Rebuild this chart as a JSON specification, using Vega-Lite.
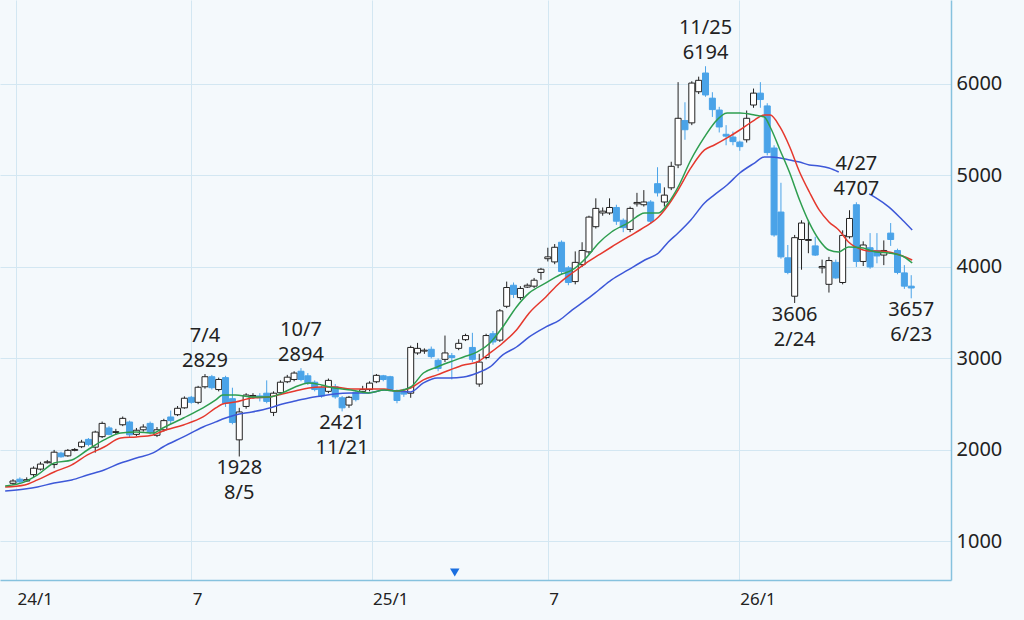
{
  "$schema": "https://vega.github.io/schema/vega-lite/v6.json",
  "width": 951,
  "height": 580,
  "autosize": {"type": "none"},
  "padding": {"left": 0, "top": 0, "right": 73, "bottom": 40},
  "background": "#f4f9fc",
  "config": {
    "view": {"stroke": null, "fill": "#f4f9fc"},
    "font": "Noto Sans",
    "axisY": {
      "grid": true,
      "gridColor": "#d3e7f2",
      "gridWidth": 1,
      "ticks": false,
      "domainColor": "#86c2de",
      "domainWidth": 1.5,
      "labelFontSize": 20,
      "labelFont": "Noto Sans",
      "labelColor": "#222222",
      "labelPadding": 5,
      "format": "d"
    }
  },
  "datasets": {
    "candles": [
      {"date":"2023-12-18","open":1635,"high":1680,"low":1620,"close":1660},
      {"date":"2023-12-25","open":1680,"high":1700,"low":1635,"close":1650},
      {"date":"2024-01-01","open":1660,"high":1700,"low":1650,"close":1675},
      {"date":"2024-01-08","open":1730,"high":1820,"low":1700,"close":1800},
      {"date":"2024-01-15","open":1790,"high":1870,"low":1775,"close":1845},
      {"date":"2024-01-22","open":1860,"high":1890,"low":1850,"close":1870},
      {"date":"2024-01-29","open":1840,"high":2000,"low":1800,"close":1975},
      {"date":"2024-02-05","open":1965,"high":1980,"low":1915,"close":1925},
      {"date":"2024-02-12","open":1935,"high":2010,"low":1925,"close":1995},
      {"date":"2024-02-19","open":1995,"high":2020,"low":1985,"close":2005},
      {"date":"2024-02-26","open":2035,"high":2110,"low":2020,"close":2085},
      {"date":"2024-03-04","open":2115,"high":2130,"low":2040,"close":2060},
      {"date":"2024-03-11","open":2030,"high":2210,"low":1970,"close":2195},
      {"date":"2024-03-18","open":2145,"high":2310,"low":2130,"close":2290},
      {"date":"2024-03-25","open":2240,"high":2260,"low":2160,"close":2170},
      {"date":"2024-04-01","open":2190,"high":2230,"low":2170,"close":2200},
      {"date":"2024-04-08","open":2275,"high":2365,"low":2260,"close":2345},
      {"date":"2024-04-15","open":2305,"high":2320,"low":2140,"close":2165},
      {"date":"2024-04-22","open":2170,"high":2240,"low":2150,"close":2215},
      {"date":"2024-04-29","open":2220,"high":2280,"low":2200,"close":2250},
      {"date":"2024-05-06","open":2290,"high":2310,"low":2170,"close":2190},
      {"date":"2024-05-13","open":2160,"high":2250,"low":2140,"close":2220},
      {"date":"2024-05-20","open":2220,"high":2340,"low":2200,"close":2320},
      {"date":"2024-05-27","open":2360,"high":2430,"low":2280,"close":2320},
      {"date":"2024-06-03","open":2385,"high":2480,"low":2370,"close":2455},
      {"date":"2024-06-10","open":2460,"high":2585,"low":2450,"close":2565},
      {"date":"2024-06-17","open":2575,"high":2590,"low":2505,"close":2520},
      {"date":"2024-06-24","open":2520,"high":2700,"low":2500,"close":2685},
      {"date":"2024-07-01","open":2690,"high":2829,"low":2670,"close":2800},
      {"date":"2024-07-08","open":2800,"high":2820,"low":2660,"close":2680},
      {"date":"2024-07-15","open":2660,"high":2790,"low":2640,"close":2770},
      {"date":"2024-07-22","open":2790,"high":2810,"low":2470,"close":2510},
      {"date":"2024-07-29","open":2560,"high":2680,"low":2280,"close":2300},
      {"date":"2024-08-05","open":2110,"high":2460,"low":1928,"close":2415},
      {"date":"2024-08-12","open":2475,"high":2620,"low":2450,"close":2600},
      {"date":"2024-08-19","open":2580,"high":2620,"low":2560,"close":2595},
      {"date":"2024-08-26","open":2590,"high":2620,"low":2530,"close":2570},
      {"date":"2024-09-02","open":2620,"high":2760,"low":2510,"close":2530},
      {"date":"2024-09-09","open":2410,"high":2640,"low":2370,"close":2620},
      {"date":"2024-09-16","open":2625,"high":2760,"low":2600,"close":2740},
      {"date":"2024-09-23","open":2745,"high":2820,"low":2730,"close":2795},
      {"date":"2024-09-30","open":2770,"high":2860,"low":2750,"close":2840},
      {"date":"2024-10-07","open":2860,"high":2894,"low":2750,"close":2770},
      {"date":"2024-10-14","open":2810,"high":2840,"low":2710,"close":2730},
      {"date":"2024-10-21","open":2740,"high":2760,"low":2640,"close":2660},
      {"date":"2024-10-28","open":2680,"high":2700,"low":2570,"close":2590},
      {"date":"2024-11-04","open":2640,"high":2780,"low":2620,"close":2760},
      {"date":"2024-11-11","open":2690,"high":2720,"low":2560,"close":2580},
      {"date":"2024-11-18","open":2570,"high":2590,"low":2421,"close":2460},
      {"date":"2024-11-25","open":2490,"high":2590,"low":2460,"close":2575},
      {"date":"2024-12-02","open":2630,"high":2650,"low":2530,"close":2550},
      {"date":"2024-12-09","open":2640,"high":2700,"low":2620,"close":2660},
      {"date":"2024-12-16","open":2660,"high":2750,"low":2640,"close":2730},
      {"date":"2024-12-23","open":2745,"high":2830,"low":2730,"close":2815},
      {"date":"2024-12-30","open":2810,"high":2820,"low":2750,"close":2770},
      {"date":"2025-01-06","open":2800,"high":2810,"low":2640,"close":2660},
      {"date":"2025-01-13","open":2640,"high":2660,"low":2510,"close":2540},
      {"date":"2025-01-20","open":2640,"high":2670,"low":2580,"close":2610},
      {"date":"2025-01-27","open":2620,"high":3140,"low":2570,"close":3120},
      {"date":"2025-02-03","open":3060,"high":3170,"low":3040,"close":3110},
      {"date":"2025-02-10","open":3080,"high":3110,"low":3050,"close":3090},
      {"date":"2025-02-17","open":3100,"high":3130,"low":3000,"close":3020},
      {"date":"2025-02-24","open":2980,"high":3000,"low":2860,"close":2890},
      {"date":"2025-03-03","open":2990,"high":3250,"low":2960,"close":3060},
      {"date":"2025-03-10","open":3030,"high":3060,"low":2770,"close":3010},
      {"date":"2025-03-17","open":3110,"high":3210,"low":3090,"close":3165},
      {"date":"2025-03-24","open":3205,"high":3270,"low":3190,"close":3250},
      {"date":"2025-03-31","open":3120,"high":3280,"low":2960,"close":2990},
      {"date":"2025-04-07","open":2720,"high":3050,"low":2690,"close":2960},
      {"date":"2025-04-14","open":3010,"high":3270,"low":2990,"close":3250},
      {"date":"2025-04-21","open":3270,"high":3300,"low":3150,"close":3180},
      {"date":"2025-04-28","open":3200,"high":3540,"low":3180,"close":3520},
      {"date":"2025-05-05","open":3570,"high":3840,"low":3550,"close":3775},
      {"date":"2025-05-12","open":3800,"high":3830,"low":3660,"close":3700},
      {"date":"2025-05-19","open":3665,"high":3790,"low":3640,"close":3765},
      {"date":"2025-05-26","open":3780,"high":3820,"low":3770,"close":3800},
      {"date":"2025-06-02","open":3790,"high":3880,"low":3770,"close":3855},
      {"date":"2025-06-09","open":3940,"high":3990,"low":3860,"close":3975},
      {"date":"2025-06-16","open":4090,"high":4210,"low":4060,"close":4110},
      {"date":"2025-06-23","open":4055,"high":4250,"low":4030,"close":4215},
      {"date":"2025-06-30","open":4270,"high":4290,"low":3920,"close":3950},
      {"date":"2025-07-07","open":3990,"high":4010,"low":3800,"close":3830},
      {"date":"2025-07-14","open":3840,"high":4170,"low":3810,"close":4050},
      {"date":"2025-07-21","open":4025,"high":4270,"low":4000,"close":4180},
      {"date":"2025-07-28","open":4165,"high":4560,"low":4140,"close":4545},
      {"date":"2025-08-04","open":4440,"high":4750,"low":4420,"close":4640},
      {"date":"2025-08-11","open":4590,"high":4650,"low":4560,"close":4610},
      {"date":"2025-08-18","open":4590,"high":4750,"low":4570,"close":4650},
      {"date":"2025-08-25","open":4650,"high":4680,"low":4460,"close":4500},
      {"date":"2025-09-01","open":4510,"high":4530,"low":4380,"close":4430},
      {"date":"2025-09-08","open":4410,"high":4660,"low":4380,"close":4640},
      {"date":"2025-09-15","open":4690,"high":4810,"low":4660,"close":4705},
      {"date":"2025-09-22","open":4680,"high":4840,"low":4660,"close":4710},
      {"date":"2025-09-29","open":4710,"high":4730,"low":4470,"close":4500},
      {"date":"2025-10-06","open":4910,"high":5090,"low":4770,"close":4810},
      {"date":"2025-10-13","open":4710,"high":4870,"low":4660,"close":4785},
      {"date":"2025-10-20","open":4865,"high":5150,"low":4840,"close":5100},
      {"date":"2025-10-27","open":5115,"high":6020,"low":5080,"close":5625},
      {"date":"2025-11-03","open":5600,"high":5800,"low":5390,"close":5500},
      {"date":"2025-11-10","open":5575,"high":6030,"low":5550,"close":6010},
      {"date":"2025-11-17","open":5915,"high":6080,"low":5890,"close":6040},
      {"date":"2025-11-24","open":6120,"high":6194,"low":5860,"close":5880},
      {"date":"2025-12-01","open":5845,"high":5910,"low":5640,"close":5720},
      {"date":"2025-12-08","open":5715,"high":5750,"low":5470,"close":5530},
      {"date":"2025-12-15","open":5450,"high":5550,"low":5330,"close":5430},
      {"date":"2025-12-22","open":5420,"high":5480,"low":5330,"close":5370},
      {"date":"2025-12-29","open":5365,"high":5380,"low":5270,"close":5315},
      {"date":"2026-01-05","open":5390,"high":5710,"low":5360,"close":5625},
      {"date":"2026-01-12","open":5770,"high":5950,"low":5740,"close":5900},
      {"date":"2026-01-19","open":5900,"high":6020,"low":5740,"close":5830},
      {"date":"2026-01-26","open":5760,"high":5790,"low":5220,"close":5250},
      {"date":"2026-02-02","open":5300,"high":5330,"low":4330,"close":4350},
      {"date":"2026-02-09","open":4600,"high":4920,"low":4090,"close":4110},
      {"date":"2026-02-16","open":4100,"high":4240,"low":3920,"close":3940},
      {"date":"2026-02-23","open":3680,"high":4350,"low":3606,"close":4320},
      {"date":"2026-03-02","open":4300,"high":4510,"low":3970,"close":4480},
      {"date":"2026-03-09","open":4290,"high":4510,"low":4150,"close":4300},
      {"date":"2026-03-16","open":4230,"high":4330,"low":4120,"close":4130},
      {"date":"2026-03-23","open":3990,"high":4080,"low":3930,"close":4005},
      {"date":"2026-03-30","open":3810,"high":4110,"low":3720,"close":4070},
      {"date":"2026-04-06","open":4050,"high":4080,"low":3870,"close":3880},
      {"date":"2026-04-13","open":3830,"high":4400,"low":3810,"close":4345},
      {"date":"2026-04-20","open":4330,"high":4620,"low":4310,"close":4530},
      {"date":"2026-04-27","open":4680,"high":4707,"low":4000,"close":4060},
      {"date":"2026-05-04","open":4060,"high":4280,"low":4010,"close":4240},
      {"date":"2026-05-11","open":4210,"high":4370,"low":3980,"close":4000},
      {"date":"2026-05-18","open":4180,"high":4370,"low":4040,"close":4120},
      {"date":"2026-05-25","open":4130,"high":4290,"low":4020,"close":4180},
      {"date":"2026-06-01","open":4370,"high":4480,"low":4230,"close":4300},
      {"date":"2026-06-08","open":4180,"high":4200,"low":3920,"close":3940},
      {"date":"2026-06-15","open":3935,"high":4020,"low":3760,"close":3790},
      {"date":"2026-06-22","open":3790,"high":3910,"low":3657,"close":3770}
    ],
    "ma": [
      {"date":"2023-12-10","ma13":1606,"ma26":1595,"ma52":1551},
      {"date":"2023-12-30","ma13":1650,"ma26":1617,"ma52":1573},
      {"date":"2024-01-12","ma13":1726,"ma26":1672,"ma52":1595},
      {"date":"2024-01-29","ma13":1857,"ma26":1759,"ma52":1639},
      {"date":"2024-02-16","ma13":1890,"ma26":1836,"ma52":1672},
      {"date":"2024-03-03","ma13":1999,"ma26":1945,"ma52":1726},
      {"date":"2024-03-20","ma13":2109,"ma26":2032,"ma52":1781},
      {"date":"2024-04-06","ma13":2185,"ma26":2131,"ma52":1857},
      {"date":"2024-04-22","ma13":2196,"ma26":2142,"ma52":1912},
      {"date":"2024-05-09","ma13":2185,"ma26":2164,"ma52":1967},
      {"date":"2024-05-19","ma13":2240,"ma26":2207,"ma52":2032},
      {"date":"2024-06-09","ma13":2349,"ma26":2273,"ma52":2142},
      {"date":"2024-06-29","ma13":2459,"ma26":2360,"ma52":2251},
      {"date":"2024-07-12","ma13":2546,"ma26":2459,"ma52":2306},
      {"date":"2024-07-19","ma13":2601,"ma26":2502,"ma52":2338},
      {"date":"2024-08-01","ma13":2601,"ma26":2524,"ma52":2382},
      {"date":"2024-08-18","ma13":2579,"ma26":2568,"ma52":2415},
      {"date":"2024-09-05","ma13":2579,"ma26":2579,"ma52":2459},
      {"date":"2024-09-18","ma13":2623,"ma26":2612,"ma52":2502},
      {"date":"2024-10-01","ma13":2688,"ma26":2644,"ma52":2535},
      {"date":"2024-10-15","ma13":2732,"ma26":2677,"ma52":2568},
      {"date":"2024-10-28","ma13":2710,"ma26":2688,"ma52":2590},
      {"date":"2024-11-10","ma13":2677,"ma26":2688,"ma52":2612},
      {"date":"2024-11-27","ma13":2655,"ma26":2666,"ma52":2623},
      {"date":"2024-12-15","ma13":2623,"ma26":2666,"ma52":2623},
      {"date":"2024-12-31","ma13":2655,"ma26":2666,"ma52":2655},
      {"date":"2025-01-12","ma13":2644,"ma26":2644,"ma52":2644},
      {"date":"2025-01-27","ma13":2688,"ma26":2677,"ma52":2634},
      {"date":"2025-02-09","ma13":2841,"ma26":2765,"ma52":2732},
      {"date":"2025-02-23","ma13":2907,"ma26":2820,"ma52":2786},
      {"date":"2025-03-08","ma13":2961,"ma26":2874,"ma52":2786},
      {"date":"2025-03-22","ma13":3016,"ma26":2928,"ma52":2797},
      {"date":"2025-04-05","ma13":3071,"ma26":2961,"ma52":2841},
      {"date":"2025-04-18","ma13":3169,"ma26":3060,"ma52":2907},
      {"date":"2025-05-01","ma13":3344,"ma26":3169,"ma52":3038},
      {"date":"2025-05-15","ma13":3563,"ma26":3311,"ma52":3125},
      {"date":"2025-05-28","ma13":3716,"ma26":3497,"ma52":3235},
      {"date":"2025-06-14","ma13":3825,"ma26":3672,"ma52":3344},
      {"date":"2025-06-28","ma13":3912,"ma26":3825,"ma52":3420},
      {"date":"2025-07-11","ma13":3967,"ma26":3934,"ma52":3530},
      {"date":"2025-07-25","ma13":4098,"ma26":4043,"ma52":3639},
      {"date":"2025-08-07","ma13":4262,"ma26":4131,"ma52":3748},
      {"date":"2025-08-20","ma13":4382,"ma26":4218,"ma52":3858},
      {"date":"2025-09-06","ma13":4481,"ma26":4328,"ma52":3967},
      {"date":"2025-09-23","ma13":4590,"ma26":4437,"ma52":4076},
      {"date":"2025-10-07","ma13":4590,"ma26":4546,"ma52":4153},
      {"date":"2025-10-17","ma13":4699,"ma26":4677,"ma52":4273},
      {"date":"2025-10-27","ma13":4874,"ma26":4841,"ma52":4371},
      {"date":"2025-11-09","ma13":5169,"ma26":5082,"ma52":4513},
      {"date":"2025-11-23","ma13":5421,"ma26":5279,"ma52":4699},
      {"date":"2025-12-03","ma13":5574,"ma26":5333,"ma52":4787},
      {"date":"2025-12-16","ma13":5683,"ma26":5410,"ma52":4896},
      {"date":"2025-12-29","ma13":5683,"ma26":5497,"ma52":5027},
      {"date":"2026-01-13","ma13":5661,"ma26":5606,"ma52":5136},
      {"date":"2026-01-23","ma13":5639,"ma26":5661,"ma52":5202},
      {"date":"2026-01-29","ma13":5530,"ma26":5661,"ma52":5202},
      {"date":"2026-02-08","ma13":5279,"ma26":5530,"ma52":5191},
      {"date":"2026-02-18","ma13":5027,"ma26":5311,"ma52":5169},
      {"date":"2026-02-28","ma13":4732,"ma26":5038,"ma52":5147},
      {"date":"2026-03-10","ma13":4481,"ma26":4819,"ma52":5115},
      {"date":"2026-03-20","ma13":4295,"ma26":4623,"ma52":5104},
      {"date":"2026-03-30","ma13":4185,"ma26":4492,"ma52":5082},
      {"date":"2026-04-09","ma13":4164,"ma26":4404,"ma52":5038},
      {"date":"2026-04-19","ma13":4218,"ma26":4273,"ma52":null},
      {"date":"2026-05-04","ma13":4207,"ma26":4185,"ma52":null},
      {"date":"2026-05-10","ma13":4185,"ma26":4175,"ma52":4798},
      {"date":"2026-05-17","ma13":4164,"ma26":4175,"ma52":4754},
      {"date":"2026-05-30","ma13":4153,"ma26":4164,"ma52":4656},
      {"date":"2026-06-13","ma13":4120,"ma26":4120,"ma52":4513},
      {"date":"2026-06-23","ma13":4043,"ma26":4076,"ma52":4404}
    ],
    "notes": [
      {"date":"2024-07-01","price":2829,"kind":"high","upper":"7/4","lower":"2829"},
      {"date":"2024-08-05","price":1928,"kind":"low","upper":"1928","lower":"8/5"},
      {"date":"2024-10-07","price":2894,"kind":"high","upper":"10/7","lower":"2894"},
      {"date":"2024-11-18","price":2421,"kind":"low","upper":"2421","lower":"11/21"},
      {"date":"2025-11-24","price":6194,"kind":"high","upper":"11/25","lower":"6194"},
      {"date":"2026-02-23","price":3606,"kind":"low","upper":"3606","lower":"2/24"},
      {"date":"2026-04-27","price":4707,"kind":"high","upper":"4/27","lower":"4707"},
      {"date":"2026-06-22","price":3657,"kind":"low","upper":"3657","lower":"6/23"}
    ],
    "events": [
      {"date":"2025-03-13","price":660}
    ]
  },
  "encoding": {
    "x": {
      "field": "date",
      "type": "temporal",
      "scale": {
        "type": "utc",
        "domain": [
          {"year": 2023, "month": 12, "date": 9, "hours": 20, "utc": true},
          {"year": 2026, "month": 7, "date": 27, "hours": 12, "utc": true}
        ]
      },
      "axis": {
        "title": null,
        "values": [
          {"year": 2023, "month": 12, "date": 21, "utc": true},
          {"year": 2024, "month": 6, "date": 17, "utc": true},
          {"year": 2024, "month": 12, "date": 18, "utc": true},
          {"year": 2025, "month": 6, "date": 16, "utc": true},
          {"year": 2025, "month": 12, "date": 28, "utc": true}
        ],
        "labelExpr": "utcmonth(datum.value) == 11 ? (utcyear(datum.value) - 1999) + '/1' : '7'",
        "grid": true,
        "gridColor": "#d3e7f2",
        "gridWidth": 1,
        "ticks": false,
        "domainColor": "#86c2de",
        "domainWidth": 1.5,
        "labelAlign": "left",
        "labelBaseline": "top",
        "labelFontSize": 17,
        "labelFont": "Noto Sans",
        "labelColor": "#222222",
        "labelPadding": 11,
        "labelOffset": 1,
        "labelOverlap": false,
        "labelFlush": false
      }
    }
  },
  "layer": [
    {
      "data": {"name": "candles"},
      "mark": {"type": "rule", "strokeWidth": 1},
      "encoding": {
        "y": {
          "field": "low",
          "type": "quantitative",
          "scale": {"domain": [578, 6918], "nice": false, "zero": false},
          "axis": {"title": null, "orient": "right", "values": [1000, 2000, 3000, 4000, 5000, 6000]}
        },
        "y2": {"field": "high"},
        "stroke": {"condition": {"test": "datum.close >= datum.open", "value": "#222222"}, "value": "#4aa3e8"}
      }
    },
    {
      "data": {"name": "candles"},
      "mark": {"type": "bar", "width": 6, "strokeWidth": 1},
      "encoding": {
        "y": {"field": "open", "type": "quantitative", "axis": {"title": null, "orient": "right", "values": [1000, 2000, 3000, 4000, 5000, 6000]}},
        "y2": {"field": "close"},
        "fill": {"condition": {"test": "datum.close >= datum.open", "value": "#ffffff"}, "value": "#4aa3e8"},
        "stroke": {"condition": {"test": "datum.close >= datum.open", "value": "#222222"}, "value": "#4aa3e8"}
      }
    },
    {
      "data": {"name": "ma"},
      "mark": {"type": "line", "color": "#3d58d8", "strokeWidth": 1.5, "interpolate": "monotone"},
      "encoding": {"y": {"field": "ma52", "type": "quantitative", "axis": {"title": null, "orient": "right", "values": [1000, 2000, 3000, 4000, 5000, 6000]}}}
    },
    {
      "data": {"name": "ma"},
      "mark": {"type": "line", "color": "#e5382d", "strokeWidth": 1.5, "interpolate": "monotone"},
      "encoding": {"y": {"field": "ma26", "type": "quantitative", "axis": {"title": null, "orient": "right", "values": [1000, 2000, 3000, 4000, 5000, 6000]}}}
    },
    {
      "data": {"name": "ma"},
      "mark": {"type": "line", "color": "#2e9e4f", "strokeWidth": 1.5, "interpolate": "monotone"},
      "encoding": {"y": {"field": "ma13", "type": "quantitative", "axis": {"title": null, "orient": "right", "values": [1000, 2000, 3000, 4000, 5000, 6000]}}}
    },
    {
      "data": {"name": "notes"},
      "transform": [{"filter": "datum.kind == 'high'"}],
      "mark": {"type": "text", "fontSize": 20, "font": "Noto Sans", "baseline": "bottom", "dy": -28, "fill": "#222222"},
      "encoding": {"y": {"field": "price", "type": "quantitative", "axis": {"title": null, "orient": "right", "values": [1000, 2000, 3000, 4000, 5000, 6000]}}, "text": {"field": "upper"}}
    },
    {
      "data": {"name": "notes"},
      "transform": [{"filter": "datum.kind == 'high'"}],
      "mark": {"type": "text", "fontSize": 20, "font": "Noto Sans", "baseline": "bottom", "dy": -3, "fill": "#222222"},
      "encoding": {"y": {"field": "price", "type": "quantitative", "axis": {"title": null, "orient": "right", "values": [1000, 2000, 3000, 4000, 5000, 6000]}}, "text": {"field": "lower"}}
    },
    {
      "data": {"name": "notes"},
      "transform": [{"filter": "datum.kind == 'low'"}],
      "mark": {"type": "text", "fontSize": 20, "font": "Noto Sans", "baseline": "top", "dy": 2, "fill": "#222222"},
      "encoding": {"y": {"field": "price", "type": "quantitative", "axis": {"title": null, "orient": "right", "values": [1000, 2000, 3000, 4000, 5000, 6000]}}, "text": {"field": "upper"}}
    },
    {
      "data": {"name": "notes"},
      "transform": [{"filter": "datum.kind == 'low'"}],
      "mark": {"type": "text", "fontSize": 20, "font": "Noto Sans", "baseline": "top", "dy": 27, "fill": "#222222"},
      "encoding": {"y": {"field": "price", "type": "quantitative", "axis": {"title": null, "orient": "right", "values": [1000, 2000, 3000, 4000, 5000, 6000]}}, "text": {"field": "lower"}}
    },
    {
      "data": {"name": "events"},
      "mark": {"type": "point", "shape": "triangle-down", "size": 90, "filled": true, "fill": "#1a6fe0", "opacity": 1, "strokeWidth": 0},
      "encoding": {"y": {"field": "price", "type": "quantitative", "axis": {"title": null, "orient": "right", "values": [1000, 2000, 3000, 4000, 5000, 6000]}}}
    }
  ]
}
